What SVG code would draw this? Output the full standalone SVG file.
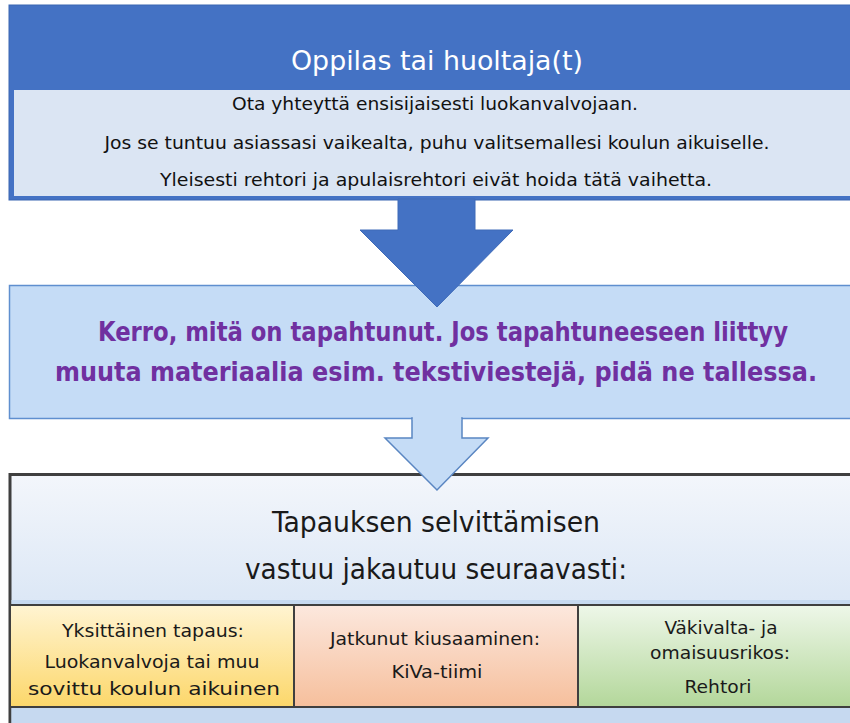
<svg xmlns="http://www.w3.org/2000/svg" width="850" height="723" viewBox="0 0 850 723">
<defs>
<linearGradient id="gBox3" x1="0" y1="0" x2="0" y2="1">
<stop offset="0" stop-color="#f3f6fb"/>
<stop offset="1" stop-color="#c4d8f0"/>
</linearGradient>
<linearGradient id="gYel" x1="0" y1="0" x2="0" y2="1">
<stop offset="0" stop-color="#fff4d2"/>
<stop offset="1" stop-color="#fcd76a"/>
</linearGradient>
<linearGradient id="gSal" x1="0" y1="0" x2="0" y2="1">
<stop offset="0" stop-color="#fce8de"/>
<stop offset="1" stop-color="#f6bf9c"/>
</linearGradient>
<linearGradient id="gGrn" x1="0" y1="0" x2="0" y2="1">
<stop offset="0" stop-color="#eef7e9"/>
<stop offset="1" stop-color="#b3d79a"/>
</linearGradient>
</defs>
<style>
text{font-family:"Liberation Sans Narrow","DejaVu Sans Condensed","Liberation Sans",sans-serif;text-anchor:middle;}
.hdr{font-size:27px;fill:#ffffff;}
.body{font-size:18px;fill:#111111;}
.purple{font-size:27px;font-weight:bold;fill:#7030a0;}
.big{font-size:28px;fill:#1a1a1a;}
.col{font-size:18px;fill:#1a1a1a;}
</style>
<rect x="0" y="0" width="850" height="723" fill="#ffffff"/>
<g id="node-oppilas">
<rect x="9" y="5" width="860" height="195" fill="#4472c4" stroke="#3b66b2" stroke-width="1"/>
<rect x="14" y="90" width="860" height="106" fill="#dbe5f3"/>
<text class="hdr" x="437" y="70" textLength="292" lengthAdjust="spacingAndGlyphs">Oppilas tai huoltaja(t)</text>
<text class="body" x="435" y="110" textLength="406" lengthAdjust="spacingAndGlyphs">Ota yhteyttä ensisijaisesti luokanvalvojaan.</text>
<text class="body" x="437" y="149" textLength="665" lengthAdjust="spacingAndGlyphs">Jos se tuntuu asiassasi vaikealta, puhu valitsemallesi koulun aikuiselle.</text>
<text class="body" x="436" y="186" textLength="552" lengthAdjust="spacingAndGlyphs">Yleisesti rehtori ja apulaisrehtori eivät hoida tätä vaihetta.</text>
</g>
<g id="node-kerro">
<rect x="9.5" y="285.5" width="860" height="133" fill="#c5dcf6" stroke="#5f8fcf" stroke-width="1.5"/>
<text class="purple" x="443" y="341" textLength="690" lengthAdjust="spacingAndGlyphs">Kerro, mitä on tapahtunut. Jos tapahtuneeseen liittyy</text>
<text class="purple" x="436" y="381" textLength="762" lengthAdjust="spacingAndGlyphs">muuta materiaalia esim. tekstiviestejä, pidä ne tallessa.</text>
</g>
<g id="node-vastuu">
<rect x="10" y="474.5" width="860" height="260" fill="url(#gBox3)" stroke="#3f3f3f" stroke-width="3"/>
<rect x="11.5" y="600" width="860" height="130" fill="#c6d9f0"/>
<text class="big" x="436" y="532" textLength="328" lengthAdjust="spacingAndGlyphs">Tapauksen selvittämisen</text>
<text class="big" x="436" y="579" textLength="382" lengthAdjust="spacingAndGlyphs">vastuu jakautuu seuraavasti:</text>
</g>
<g id="node-yksittainen">
<rect x="10" y="605" width="284" height="102" fill="url(#gYel)" stroke="#3f3f3f" stroke-width="2"/>
<text class="col" x="153" y="637" textLength="182" lengthAdjust="spacingAndGlyphs">Yksittäinen tapaus:</text>
<text class="col" x="152" y="668" textLength="215" lengthAdjust="spacingAndGlyphs">Luokanvalvoja tai muu</text>
<text class="col" x="154" y="695" textLength="252" lengthAdjust="spacingAndGlyphs">sovittu koulun aikuinen</text>
</g>
<g id="node-jatkunut">
<rect x="294" y="605" width="284" height="102" fill="url(#gSal)" stroke="#3f3f3f" stroke-width="2"/>
<text class="col" x="435" y="645" textLength="210" lengthAdjust="spacingAndGlyphs">Jatkunut kiusaaminen:</text>
<text class="col" x="437" y="678" textLength="91" lengthAdjust="spacingAndGlyphs">KiVa-tiimi</text>
</g>
<g id="node-vakivalta">
<rect x="578" y="605" width="290" height="102" fill="url(#gGrn)" stroke="#3f3f3f" stroke-width="2"/>
<text class="col" x="721" y="634" textLength="113" lengthAdjust="spacingAndGlyphs">Väkivalta- ja</text>
<text class="col" x="720" y="659" textLength="140" lengthAdjust="spacingAndGlyphs">omaisuusrikos:</text>
<text class="col" x="718" y="693" textLength="67" lengthAdjust="spacingAndGlyphs">Rehtori</text>
</g>
<g id="connectors">
<polygon points="398,199 475,199 475,230 513,230 437,307 360,230 398,230" fill="#4472c4" stroke="#3e6ab8" stroke-width="1"/>
<polygon points="412,418 462,418 462,438 488,438 437,490 385,438 412,438" fill="#c5dcf6" stroke="#5a86c2" stroke-width="1.5" stroke-linejoin="miter"/>
<rect x="412.8" y="416" width="48.4" height="4" fill="#c5dcf6"/>
</g>
</svg>
